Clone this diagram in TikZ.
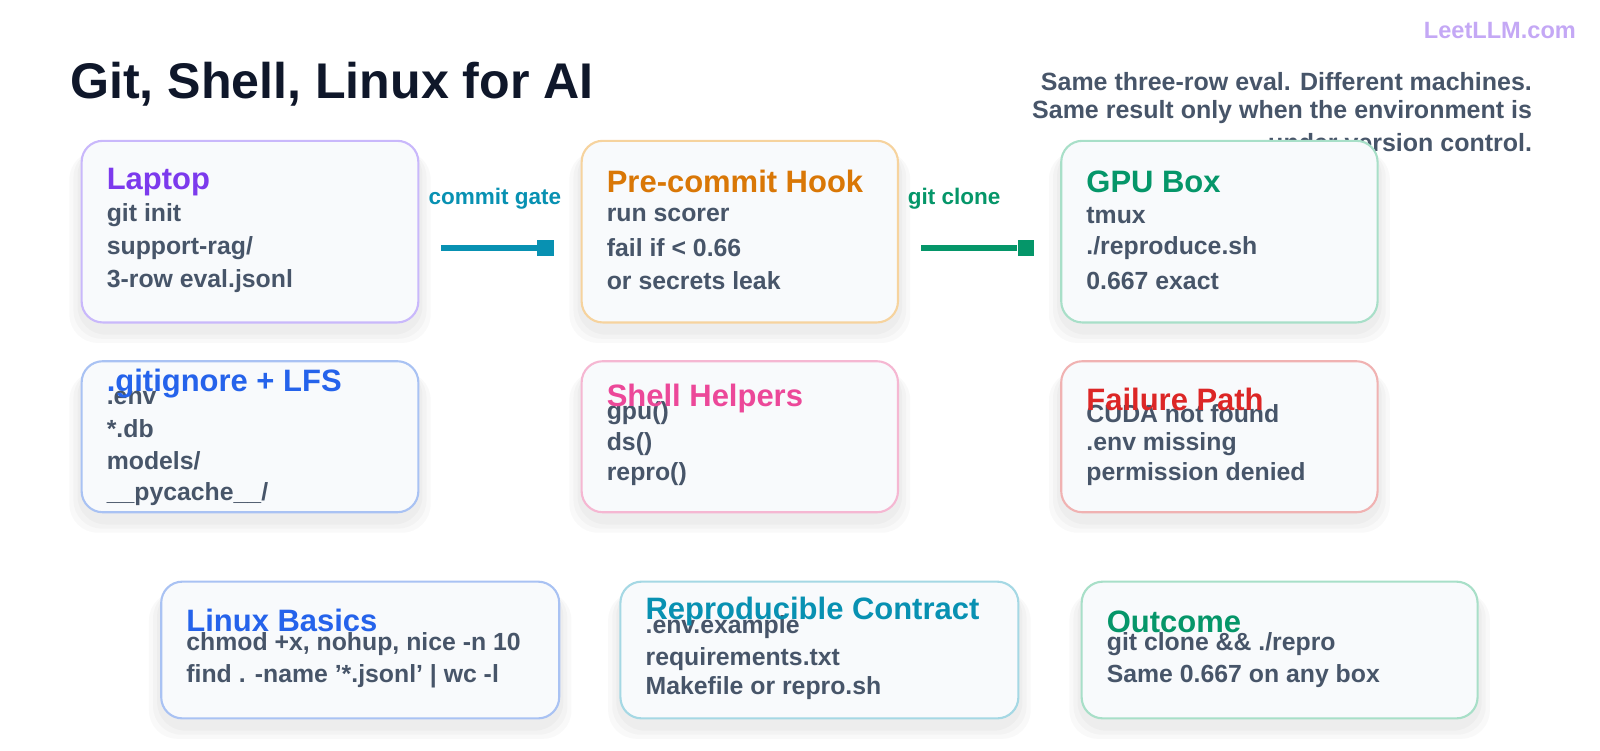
\documentclass[tikz,border=0pt]{standalone}
\usepackage{fontspec}
\setmainfont{Liberation Sans}
\usetikzlibrary{positioning,calc}
\definecolor{ink}{HTML}{0F172A}
\definecolor{body}{HTML}{475569}
\definecolor{boxfill}{HTML}{F8FAFC}
\definecolor{cpurple}{HTML}{7C3AED}\definecolor{bpurple}{HTML}{C9B8FB}
\definecolor{corange}{HTML}{D97706}\definecolor{borange}{HTML}{F6D39E}
\definecolor{cgreen}{HTML}{059669}\definecolor{bgreen}{HTML}{A8DFC8}
\definecolor{cblue}{HTML}{2563EB}\definecolor{bblue}{HTML}{A9C2F3}
\definecolor{cpink}{HTML}{EC4899}\definecolor{bpink}{HTML}{F5B7D2}
\definecolor{cred}{HTML}{DC2626}\definecolor{bred}{HTML}{F0B2B2}
\definecolor{ccyan}{HTML}{0891B2}\definecolor{bcyan}{HTML}{A5D8E4}
\definecolor{logo}{HTML}{C4A8F5}
\newlength{\px}\setlength{\px}{0.0102cm}
\tikzset{
  card/.style={draw=#1, line width=0.6pt, fill=boxfill, rounded corners=6pt},
  haze/.style={fill=black, opacity=0.022, rounded corners=8pt},
  head/.style={anchor=west, font=\fontsize{8.8}{9}\selectfont\bfseries, text=#1, inner sep=0pt},
  line/.style={anchor=west, font=\fontsize{7.05}{8}\selectfont\bfseries, text=body, inner sep=0pt},
  note/.style={anchor=east, font=\fontsize{7.1}{8}\selectfont\bfseries, text=body, inner sep=0pt},
  gate/.style={line width=1.7pt, draw=#1},
  stop/.style={fill=#1, minimum size=16\px, inner sep=0pt, anchor=west},
  tag/.style={font=\fontsize{6.4}{7}\selectfont\bfseries, text=#1},
}
\newcommand{\cardbox}[3]{% color, corner, corner
  \foreach \g in {4,8,12} {\fill[haze] ($#2+(-\g,\g/2+4)$) rectangle ($#3+(\g,\g+8)$);}
  \draw[card=#1] #2 rectangle #3;}
\begin{document}
\begin{tikzpicture}[x=0.0102cm, y=-0.0102cm]
\useasboundingbox (0,0) rectangle (1568,735);

% Title and note
\node[anchor=west, inner sep=0pt, font=\fontsize{14.25}{16}\selectfont\bfseries, text=ink] (title) at (68,83) {Git, Shell, Linux for AI};
\node[note] (note1) at (1502,80) {Same three-row eval. Different machines.};
\node[note] (note2) at (1502,110) {Same result only when the environment is};
\node[note] (note3) at (1502,140) {under version control.};
\node[anchor=east, inner sep=0pt, font=\fontsize{6.7}{8}\selectfont\bfseries, text=logo] (brand) at (1545,30) {LeetLLM.com};

% Row 1
\cardbox{bpurple}{(80,138)}{(410,316)}
\node[head=cpurple] (laptop) at (104,178) {Laptop};
\node[line] (l1) at (104,211) {git init};
\node[line] (l2) at (104,243) {support-rag/};
\node[line] (l3) at (104,275) {3-row eval.jsonl};

\cardbox{borange}{(570,138)}{(880,316)}
\node[head=corange] (hook) at (594,178) {Pre-commit Hook};
\node[line] (h1) at (594,211) {run scorer};
\node[line] (h2) at (594,243) {fail if < 0.66};
\node[line] (h3) at (594,275) {or secrets leak};

\cardbox{bgreen}{(1040,138)}{(1350,316)}
\node[head=cgreen] (gpu) at (1064,178) {GPU Box};
\node[line] (g1) at (1064,211) {tmux};
\node[line] (g2) at (1064,243) {./reproduce.sh};
\node[line] (g3) at (1064,275) {0.667 exact};

% Connectors
\coordinate (cgA) at (432,243);
\node[stop=ccyan] (cgB) at (526,243) {};
\draw[gate=ccyan] (cgA) -- (cgB);
\node[tag=ccyan] (cgL) at (485,195) {commit gate};
\coordinate (gcA) at (903,243);
\node[stop=cgreen] (gcB) at (997,243) {};
\draw[gate=cgreen] (gcA) -- (gcB);
\node[tag=cgreen] (gcL) at (935,195) {git clone};

% Row 2
\cardbox{bblue}{(80,354)}{(410,502)}
\node[line] (i1) at (104,390) {.env};
\node[line] (i2) at (104,420) {*.db};
\node[line] (i3) at (104,452) {models/};
\node[line] (i4) at (104,484) {\_\_pycache\_\_/};
\node[head=cblue] (ignore) at (104,376) {.gitignore + LFS};

\cardbox{bpink}{(570,354)}{(880,502)}
\node[line] (s1) at (594,405) {gpu()};
\node[line] (s2) at (594,435) {ds()};
\node[line] (s3) at (594,465) {repro()};
\node[head=cpink] (shell) at (594,391) {Shell Helpers};

\cardbox{bred}{(1040,354)}{(1350,502)}
\node[line] (f1) at (1064,405) {CUDA not found};
\node[line] (f2) at (1064,435) {.env missing};
\node[line] (f3) at (1064,465) {permission denied};
\node[head=cred] (fail) at (1064,391) {Failure Path};

% Row 3
\cardbox{bblue}{(158,570)}{(548,704)}
\node[line] (b1) at (182,631) {chmod +x, nohup, nice -n 10};
\node[line] (b2) at (182,663) {find . -name '*.jsonl' | wc -l};
\node[head=cblue] (linux) at (182,608) {Linux Basics};

\cardbox{bcyan}{(608,570)}{(998,704)}
\node[line] (r1) at (632,615) {.env.example};
\node[line] (r2) at (632,646) {requirements.txt};
\node[line] (r3) at (632,674) {Makefile or repro.sh};
\node[head=ccyan] (contract) at (632,599) {Reproducible Contract};

\cardbox{bgreen}{(1060,570)}{(1448,704)}
\node[line] (o1) at (1084,631) {git clone \&\& ./repro};
\node[line] (o2) at (1084,663) {Same 0.667 on any box};
\node[head=cgreen] (outcome) at (1084,609) {Outcome};

\end{tikzpicture}
\end{document}
